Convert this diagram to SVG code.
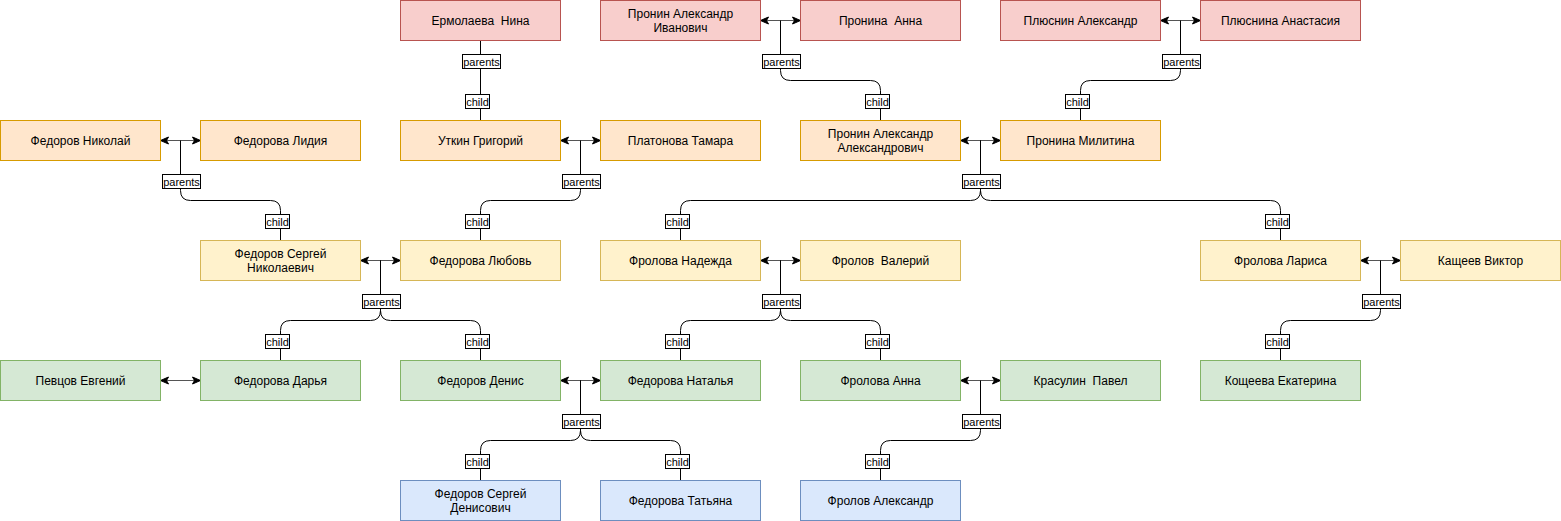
<svg xmlns="http://www.w3.org/2000/svg" width="1561" height="521" viewBox="0 0 1561 521">
<style>
.n rect{stroke-width:1}
.red rect{fill:#f8cecc;stroke:#b85450}
.org rect{fill:#ffe6cc;stroke:#d79b00}
.yel rect{fill:#fff2cc;stroke:#d6b656}
.grn rect{fill:#d5e8d4;stroke:#82b366}
.blu rect{fill:#dae8fc;stroke:#6c8ebf}
.n text{font-family:"Liberation Sans",Arial,sans-serif;font-size:12px;fill:#000;text-anchor:middle;white-space:pre}
.e{fill:none;stroke:#000;stroke-width:1}
.c{fill:none;stroke:#555;stroke-width:1;marker-start:url(#arr);marker-end:url(#arr)}
.lb rect{fill:#fff;stroke:#000;stroke-width:1}
.lb text{font-family:"Liberation Sans",Arial,sans-serif;font-size:11px;fill:#000;text-anchor:middle}
</style>
<defs>
<marker id="arr" viewBox="-1 -5 10 10" markerWidth="10" markerHeight="10" refX="8" refY="0" orient="auto-start-reverse" markerUnits="userSpaceOnUse">
<path d="M0,-3.5 L8,0 L0,3.5 L2,0 Z" fill="#000" stroke="#000" stroke-width="1"/>
</marker>
</defs>
<rect x="0" y="0" width="1561" height="521" fill="#fff"/>
<g transform="translate(0.5,0.5)">
<g id="connectors">
<line class="c" x1="760" y1="20" x2="800" y2="20"/>
<line class="c" x1="1160" y1="20" x2="1200" y2="20"/>
<line class="c" x1="160" y1="140" x2="200" y2="140"/>
<line class="c" x1="560" y1="140" x2="600" y2="140"/>
<line class="c" x1="960" y1="140" x2="1000" y2="140"/>
<line class="c" x1="360" y1="260" x2="400" y2="260"/>
<line class="c" x1="760" y1="260" x2="800" y2="260"/>
<line class="c" x1="1360" y1="260" x2="1400" y2="260"/>
<line class="c" x1="160" y1="380" x2="200" y2="380"/>
<line class="c" x1="560" y1="380" x2="600" y2="380"/>
<line class="c" x1="960" y1="380" x2="1000" y2="380"/>

<path class="e" d="M480 40 V120"/>
<path class="e" d="M780 20 V70 Q780 80 790 80 H870 Q880 80 880 90 V120"/>
<path class="e" d="M1180 20 V70 Q1180 80 1170 80 H1090 Q1080 80 1080 90 V120"/>
<path class="e" d="M180 140 V190 Q180 200 190 200 H270 Q280 200 280 210 V240"/>
<path class="e" d="M580 140 V190 Q580 200 570 200 H490 Q480 200 480 210 V240"/>
<path class="e" d="M980 140 V190 Q980 200 970 200 H690 Q680 200 680 210 V240"/>
<path class="e" d="M980 140 V190 Q980 200 990 200 H1270 Q1280 200 1280 210 V240"/>
<path class="e" d="M380 260 V310 Q380 320 370 320 H290 Q280 320 280 330 V360"/>
<path class="e" d="M380 260 V310 Q380 320 390 320 H470 Q480 320 480 330 V360"/>
<path class="e" d="M780 260 V310 Q780 320 770 320 H690 Q680 320 680 330 V360"/>
<path class="e" d="M780 260 V310 Q780 320 790 320 H870 Q880 320 880 330 V360"/>
<path class="e" d="M1380 260 V310 Q1380 320 1370 320 H1290 Q1280 320 1280 330 V360"/>
<path class="e" d="M580 380 V430 Q580 440 570 440 H490 Q480 440 480 450 V480"/>
<path class="e" d="M580 380 V430 Q580 440 590 440 H670 Q680 440 680 450 V480"/>
<path class="e" d="M980 380 V430 Q980 440 970 440 H890 Q880 440 880 450 V480"/>

<g class="lb">
<rect x="462" y="54" width="38" height="14"/><text x="481" y="65">parents</text>
<rect x="762" y="54" width="38" height="14"/><text x="781" y="65">parents</text>
<rect x="1162" y="54" width="38" height="14"/><text x="1181" y="65">parents</text>
<rect x="162" y="174" width="38" height="14"/><text x="181" y="185">parents</text>
<rect x="562" y="174" width="38" height="14"/><text x="581" y="185">parents</text>
<rect x="962" y="174" width="38" height="14"/><text x="981" y="185">parents</text>
<rect x="362" y="294" width="38" height="14"/><text x="381" y="305">parents</text>
<rect x="762" y="294" width="38" height="14"/><text x="781" y="305">parents</text>
<rect x="1362" y="294" width="38" height="14"/><text x="1381" y="305">parents</text>
<rect x="562" y="414" width="38" height="14"/><text x="581" y="425">parents</text>
<rect x="962" y="414" width="38" height="14"/><text x="981" y="425">parents</text>

<rect x="465" y="94" width="24" height="14"/><text x="477" y="105">child</text>
<rect x="865" y="94" width="24" height="14"/><text x="877" y="105">child</text>
<rect x="1065" y="94" width="24" height="14"/><text x="1077" y="105">child</text>
<rect x="265" y="214" width="24" height="14"/><text x="277" y="225">child</text>
<rect x="465" y="214" width="24" height="14"/><text x="477" y="225">child</text>
<rect x="665" y="214" width="24" height="14"/><text x="677" y="225">child</text>
<rect x="1265" y="214" width="24" height="14"/><text x="1277" y="225">child</text>
<rect x="265" y="334" width="24" height="14"/><text x="277" y="345">child</text>
<rect x="465" y="334" width="24" height="14"/><text x="477" y="345">child</text>
<rect x="665" y="334" width="24" height="14"/><text x="677" y="345">child</text>
<rect x="865" y="334" width="24" height="14"/><text x="877" y="345">child</text>
<rect x="1265" y="334" width="24" height="14"/><text x="1277" y="345">child</text>
<rect x="465" y="454" width="24" height="14"/><text x="477" y="465">child</text>
<rect x="665" y="454" width="24" height="14"/><text x="677" y="465">child</text>
<rect x="865" y="454" width="24" height="14"/><text x="877" y="465">child</text>
</g>
</g>

<g id="n-ermolaeva" class="n red"><rect x="400" y="0" width="160" height="40"/><text x="480" y="24">Ермолаева  Нина</text></g>
<g id="n-pronin-ai" class="n red"><rect x="600" y="0" width="160" height="40"/><text x="680" y="17">Пронин Александр</text><text x="680" y="31">Иванович</text></g>
<g id="n-pronina-anna" class="n red"><rect x="800" y="0" width="160" height="40"/><text x="880" y="24">Пронина  Анна</text></g>
<g id="n-plyusnin" class="n red"><rect x="1000" y="0" width="160" height="40"/><text x="1080" y="24">Плюснин Александр</text></g>
<g id="n-plyusnina" class="n red"><rect x="1200" y="0" width="160" height="40"/><text x="1280" y="24">Плюснина Анастасия</text></g>

<g id="n-fedorov-nikolai" class="n org"><rect x="0" y="120" width="160" height="40"/><text x="80" y="144">Федоров Николай</text></g>
<g id="n-fedorova-lidia" class="n org"><rect x="200" y="120" width="160" height="40"/><text x="280" y="144">Федорова Лидия</text></g>
<g id="n-utkin" class="n org"><rect x="400" y="120" width="160" height="40"/><text x="480" y="144">Уткин Григорий</text></g>
<g id="n-platonova" class="n org"><rect x="600" y="120" width="160" height="40"/><text x="680" y="144">Платонова Тамара</text></g>
<g id="n-pronin-aa" class="n org"><rect x="800" y="120" width="160" height="40"/><text x="880" y="137">Пронин Александр</text><text x="880" y="151">Александрович</text></g>
<g id="n-pronina-militina" class="n org"><rect x="1000" y="120" width="160" height="40"/><text x="1080" y="144">Пронина Милитина</text></g>

<g id="n-fedorov-sergei-n" class="n yel"><rect x="200" y="240" width="160" height="40"/><text x="280" y="257">Федоров Сергей</text><text x="280" y="271">Николаевич</text></g>
<g id="n-fedorova-lubov" class="n yel"><rect x="400" y="240" width="160" height="40"/><text x="480" y="264">Федорова Любовь</text></g>
<g id="n-frolova-nadezhda" class="n yel"><rect x="600" y="240" width="160" height="40"/><text x="680" y="264">Фролова Надежда</text></g>
<g id="n-frolov-valeriy" class="n yel"><rect x="800" y="240" width="160" height="40"/><text x="880" y="264">Фролов  Валерий</text></g>
<g id="n-frolova-larisa" class="n yel"><rect x="1200" y="240" width="160" height="40"/><text x="1280" y="264">Фролова Лариса</text></g>
<g id="n-kascheev" class="n yel"><rect x="1400" y="240" width="160" height="40"/><text x="1480" y="264">Кащеев Виктор</text></g>

<g id="n-pevtsov" class="n grn"><rect x="0" y="360" width="160" height="40"/><text x="80" y="384">Певцов Евгений</text></g>
<g id="n-fedorova-darya" class="n grn"><rect x="200" y="360" width="160" height="40"/><text x="280" y="384">Федорова Дарья</text></g>
<g id="n-fedorov-denis" class="n grn"><rect x="400" y="360" width="160" height="40"/><text x="480" y="384">Федоров Денис</text></g>
<g id="n-fedorova-natalya" class="n grn"><rect x="600" y="360" width="160" height="40"/><text x="680" y="384">Федорова Наталья</text></g>
<g id="n-frolova-anna" class="n grn"><rect x="800" y="360" width="160" height="40"/><text x="880" y="384">Фролова Анна</text></g>
<g id="n-krasulin" class="n grn"><rect x="1000" y="360" width="160" height="40"/><text x="1080" y="384">Красулин  Павел</text></g>
<g id="n-koscheeva" class="n grn"><rect x="1200" y="360" width="160" height="40"/><text x="1280" y="384">Кощеева Екатерина</text></g>

<g id="n-fedorov-sergei-d" class="n blu"><rect x="400" y="480" width="160" height="40"/><text x="480" y="497">Федоров Сергей</text><text x="480" y="511">Денисович</text></g>
<g id="n-fedorova-tatyana" class="n blu"><rect x="600" y="480" width="160" height="40"/><text x="680" y="504">Федорова Татьяна</text></g>
<g id="n-frolov-aleksandr" class="n blu"><rect x="800" y="480" width="160" height="40"/><text x="880" y="504">Фролов Александр</text></g>
</g>
</svg>
